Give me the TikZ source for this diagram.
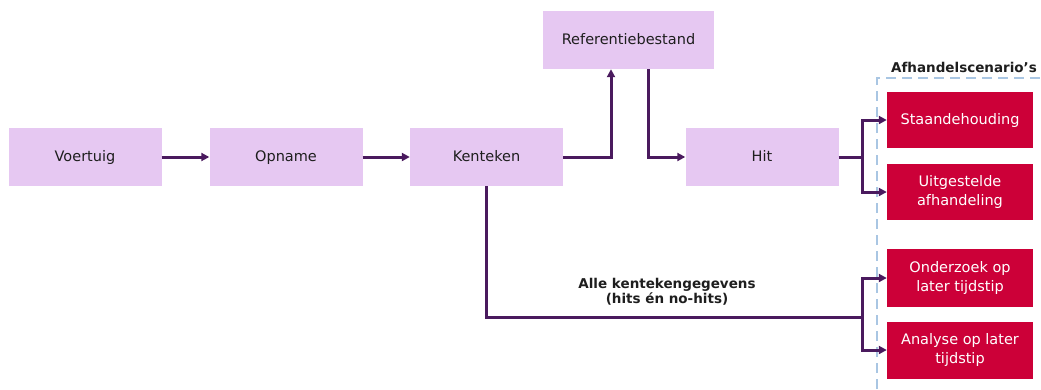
\documentclass[tikz,border=0pt]{standalone}
\usepackage{fontspec}
\setmainfont{DejaVu Sans}
\usetikzlibrary{arrows.meta,calc}
\definecolor{lilac}{HTML}{E6C8F2}
\definecolor{redbox}{HTML}{CC0038}
\definecolor{plum}{HTML}{4A1A5E}
\definecolor{dashblue}{HTML}{A9C6E3}
\definecolor{txt}{HTML}{1E1E1E}
\tikzset{
  lbox/.style={fill=lilac, draw=none, text=txt, minimum width=153pt, minimum height=58pt, inner sep=0pt, font=\fontsize{14.5}{18}\selectfont, text height=11pt, text depth=3pt},
  rbox/.style={fill=redbox, draw=none, text=white, minimum width=146pt, minimum height=56pt, inner sep=0pt, font=\fontsize{14.5}{18.5}\selectfont, align=center},
  conn/.style={draw=plum, line width=3pt, -{Triangle[length=8pt,width=8pt]}},
  line/.style={draw=plum, line width=3pt},
  blabel/.style={font=\bfseries\fontsize{13.5}{15.5}\selectfont, text=txt, align=center, inner sep=0pt}
}
\begin{document}
\begin{tikzpicture}[x=1pt,y=-1pt]
\useasboundingbox (0,0) rectangle (1041,389);
\node[lbox] (voer) at (85,157) {Voertuig};
\node[lbox] (opn) at (286,157) {Opname};
\node[lbox] (ken) at (486.5,157) {Kenteken};
\node[lbox, minimum width=171pt] (ref) at (628.5,40) {Referentiebestand};
\node[lbox] (hit) at (762,157) {Hit};
\node[rbox] (sta) at (960,120) {Staandehouding};
\node[rbox] (uit) at (960,192) {Uitgestelde\\afhandeling};
\node[rbox, minimum height=58pt] (ond) at (960,278) {Onderzoek op\\later tijdstip};
\node[rbox, minimum height=57pt] (ana) at (960,350) {Analyse op later\\tijdstip};
\draw[dashblue, line width=1.8pt, dash pattern=on 10pt off 6pt] (877,389) -- (877,78) -- (1041,78);
\node[blabel, anchor=base] (afh) at (964,72) {Afhandelscenario’s};
\node[blabel] (alle) at (667,292) {Alle kentekengegevens\\(hits én no-hits)};
\coordinate (k1) at (611,157);
\coordinate (r1) at (648,69);
\coordinate (j1) at (862,157);
\coordinate (j2) at (862,317);
\draw[conn] (voer) -- (opn);
\draw[conn] (opn) -- (ken);
\draw[conn] (ken.east) -- (k1) -- (k1 |- ref.south);
\draw[conn] (r1) |- (hit.west);
\draw[line] (hit.east) -- (j1);
\draw[conn] (j1) |- (sta.west);
\draw[conn] (j1) |- (uit.west);
\draw[line] (ken.south) |- (j2);
\draw[conn] (j2) |- (ond.west);
\draw[conn] (j2) |- (ana.west);
\end{tikzpicture}
\end{document}
